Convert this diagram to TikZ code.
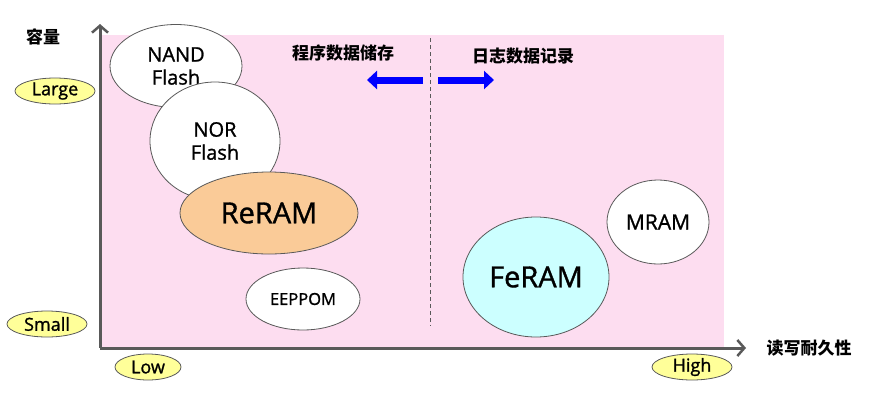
\documentclass[tikz,border=0pt]{standalone}
\usepackage{fontspec}
\setmainfont{Open Sans}[FakeBold=1.2]
\newfontfamily\cjk{Noto Sans CJK SC}
\usepackage{tikz}
\usetikzlibrary{arrows.meta,shapes.geometric}
\definecolor{bgpink}  {HTML}{FDDDF0}
\definecolor{axgray}  {HTML}{595959}
\definecolor{peach}   {HTML}{FACB98}
\definecolor{icecyan} {HTML}{CCFFFF}
\definecolor{lblyel}  {HTML}{FFFF99}
\definecolor{arrblue} {HTML}{0000FF}
\tikzset{
  mem/.style={ellipse,draw=axgray,line width=0.8pt,fill=white,inner sep=0pt,
              align=center,font=\fontsize{20}{23}\selectfont},
  tag/.style={ellipse,draw=axgray,line width=0.8pt,fill=lblyel,inner sep=0pt,
              minimum height=26pt,font=\fontsize{18}{18}\selectfont},
  cjklbl/.style={font=\cjk\bfseries\fontsize{17}{17}\selectfont},
  fatarrow/.style={arrblue,line width=7pt,-{Triangle[width=18pt,length=10pt]}}
}

\begin{document}
\begin{tikzpicture}[x=1pt,y=-1pt]
        \useasboundingbox (0,0) rectangle (881,405);
        % plot area
        \fill[bgpink] (100,35) rectangle (724,348);
        % split between the two uses
        \coordinate (splittop) at (430,38);
        \coordinate (splitbot) at (430,326);
        \draw[axgray,dash pattern=on 4pt off 3pt,line width=0.8pt] (splittop) -- (splitbot);
        % axes
        \coordinate (origin) at (100,348);
        \coordinate (ytip) at (100,24);
        \coordinate (xtip) at (746,348);
        \draw[axgray,line width=3pt,-{Straight Barb[length=7pt,width=16pt,line width=2.5pt]}] (origin) -- (ytip);
        \draw[axgray,line width=3pt,-{Straight Barb[length=7pt,width=16pt,line width=2.5pt]}] (origin) -- (xtip);
        \node[cjklbl] (cap) at (43,37) {容量};
        \node[cjklbl,anchor=west] (endur) at (763,348) {读写耐久性};
        % level tags
        \node[tag,minimum width=80pt] (large) at (55,91) {Large};
        \node[tag,minimum width=80pt] (small) at (47,324) {Small};
        \node[tag,minimum width=66pt] (low) at (148,367) {Low};
        \node[tag,minimum width=80pt] (high) at (692,367) {High};
        % direction hints
        \node[cjklbl] (prog) at (343,53) {程序数据储存};
        \node[cjklbl] (logr) at (523,56) {日志数据记录};
        \coordinate (lfrom) at (423,80);
        \coordinate (lto) at (367,80);
        \coordinate (rfrom) at (438,80);
        \coordinate (rto) at (494,80);
        \draw[fatarrow] (lfrom) -- (lto);
        \draw[fatarrow] (rfrom) -- (rto);
        % memories
        \node[mem,minimum width=132pt,minimum height=83pt] (nand) at (176,66) {NAND\\Flash};
        \node[mem,minimum width=130pt,minimum height=118pt] (nor) at (215,141) {NOR\\Flash};
        \node[mem,fill=peach,minimum width=178pt,minimum height=82pt,
              font=\fontsize{29}{29}\selectfont] (reram) at (269,213) {ReRAM};
        \node[mem,minimum width=114pt,minimum height=62pt,
              font=\fontsize{16.5}{16.5}\selectfont] (eeprom) at (303,299) {EEPPOM};
        \node[mem,fill=icecyan,minimum width=146pt,minimum height=120pt,
              font=\fontsize{29}{29}\selectfont] (feram) at (536,277) {FeRAM};
        \node[mem,minimum width=102pt,minimum height=84pt,
              font=\fontsize{21}{21}\selectfont] (mram) at (658,222) {MRAM};
      \end{tikzpicture}
\end{document}
